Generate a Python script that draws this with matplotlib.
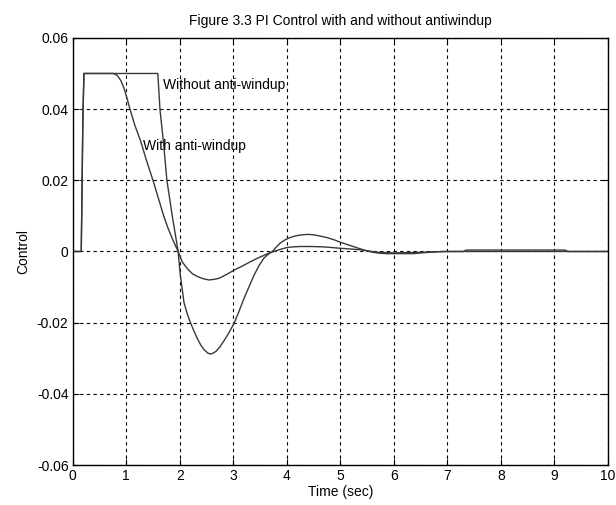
import matplotlib
matplotlib.use("Agg")
import matplotlib.pyplot as plt

# time (sec) and control signal
t_without = [0, 0.16, 0.17, 0.19, 0.21, 1.59, 1.61, 1.63, 1.70, 1.76, 1.86,
             1.97, 2.01, 2.08, 2.14, 2.20, 2.27, 2.33, 2.39, 2.45, 2.52,
             2.57, 2.62, 2.68, 2.75, 2.83, 2.92, 3.02, 3.11, 3.20, 3.30,
             3.39, 3.48, 3.57, 3.65, 3.73, 3.80, 3.88, 3.96, 4.04, 4.12,
             4.20, 4.30, 4.40, 4.50, 4.60, 4.75, 4.88, 5.00, 5.12, 5.24,
             5.36, 5.49, 5.60, 5.74, 5.87, 6.00, 6.36, 6.60, 6.90, 7.30,
             7.35, 9.20, 9.25, 10.0]
u_without = [0, 0, 0.012, 0.037, 0.05, 0.05, 0.045, 0.04, 0.03, 0.02, 0.01,
             0.0, -0.0066, -0.0144, -0.0175, -0.020, -0.0225, -0.0245,
             -0.0262, -0.0275, -0.0285, -0.0288, -0.0286, -0.0280, -0.0268,
             -0.0250, -0.0228, -0.0200, -0.0167, -0.0132, -0.0097, -0.0066,
             -0.0040, -0.0019, -0.0008, 0.0, 0.0012, 0.0024, 0.0032, 0.0038,
             0.0042, 0.0045, 0.0047, 0.0048, 0.0047, 0.0044, 0.0039, 0.0033,
             0.0026, 0.0020, 0.0014, 0.0008, 0.0002, -0.0002, -0.0005,
             -0.0006, -0.0006, -0.0006, -0.0003, 0.0, 0.0, 0.0004, 0.0004,
             0.0, 0.0]

t_with = [0, 0.16, 0.17, 0.19, 0.21, 0.76, 0.83, 0.90, 0.96, 1.02, 1.06,
          1.16, 1.27, 1.38, 1.50, 1.62, 1.70, 1.78, 1.87, 1.97, 2.05, 2.14,
          2.24, 2.34, 2.45, 2.55, 2.65, 2.74, 2.88, 3.02, 3.18, 3.33, 3.45,
          3.57, 3.66, 3.76, 3.88, 4.00, 4.12, 4.25, 4.45, 4.68, 4.85, 5.00,
          5.37, 5.68, 6.00, 6.36, 6.73, 7.00, 10.0]
u_with = [0, 0, 0.012, 0.037, 0.05, 0.05, 0.0495, 0.0480, 0.0458, 0.0428,
          0.0405, 0.0355, 0.031, 0.0255, 0.020, 0.014, 0.0100, 0.0066,
          0.0033, 0.0, -0.003, -0.0048, -0.0063, -0.0071, -0.0077, -0.0080,
          -0.0078, -0.0075, -0.0064, -0.0052, -0.0040, -0.0028, -0.0019,
          -0.0011, -0.0005, 0.0, 0.0006, 0.0011, 0.0013, 0.0014, 0.0014,
          0.0013, 0.0011, 0.0009, 0.0005, -0.0002, -0.0004, -0.0003,
          -0.0001, 0.0, 0.0]

x_ticks = list(range(0, 11))
y_ticks = [-0.06, -0.04, -0.02, 0, 0.02, 0.04, 0.06]
y_tick_labels = ["-0.06", "-0.04", "-0.02", "0", "0.02", "0.04", "0.06"]

plt.rcParams['font.family'] = ['Liberation Sans', 'DejaVu Sans']

fig = plt.figure(figsize=(6.16, 5.05), dpi=100)
ax = fig.add_axes([0.118, 0.079, 0.869, 0.846])

ax.plot(t_without, u_without, color='#383838', linewidth=1.0)
ax.plot(t_with, u_with, color='#383838', linewidth=1.0)

ax.text(1.68, 0.0467, "Without anti-windup", va='center', ha='left',
        fontsize=10)
ax.text(1.32, 0.0296, "With anti-windup", va='center', ha='left',
        fontsize=10)

ax.set_xlim(0, 10)
ax.set_ylim(-0.06, 0.06)
ax.set_xticks(x_ticks)
ax.set_yticks(y_ticks)
ax.set_yticklabels(y_tick_labels)
ax.tick_params(direction='in', length=4, top=True, right=True, pad=3,
               labelsize=10)
ax.grid(True, color='black', linestyle=(0, (3, 3)), linewidth=0.8)
for s in ax.spines.values():
    s.set_linewidth(1.0)

ax.set_title("Figure 3.3 PI Control with and without antiwindup",
             fontsize=10, pad=9)
ax.set_xlabel("Time (sec)", fontsize=10, labelpad=1)
ax.set_ylabel("Control", fontsize=10, labelpad=5)

fig.savefig("out.png", dpi=100)
